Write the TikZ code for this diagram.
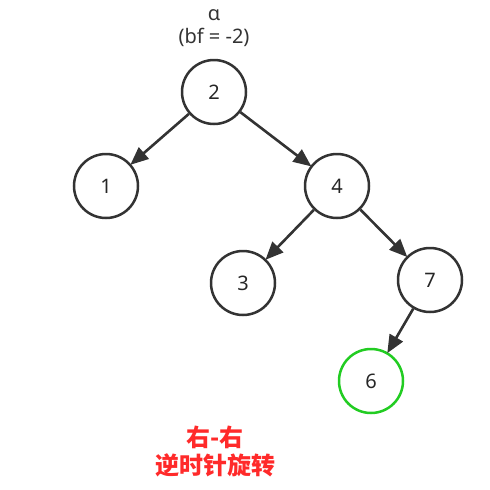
\documentclass[tikz,border=0pt]{standalone}
\usepackage{fontspec}
\setmainfont{Noto Sans}
\newfontfamily\cjk{Noto Sans CJK SC}
\usetikzlibrary{arrows.meta}

\definecolor{edgegray}{HTML}{333333}
\definecolor{newgreen}{HTML}{22CC22}
\definecolor{rotred}{HTML}{FF2A2A}

\begin{document}
\begin{tikzpicture}[x=1pt, y=-1pt,
    treenode/.style={circle, draw=edgegray, line width=2.5pt, minimum size=64pt, inner sep=0pt, font=\fontsize{20}{24}\selectfont, text=black!85},
    treeedge/.style={-{Triangle[length=18pt, width=15pt]}, draw=edgegray, fill=edgegray, line width=2.6pt, shorten >=-1pt}]
    \useasboundingbox (0,0) rectangle (490,490);

    % Balance factor label
    \node[font=\fontsize{20}{24}\selectfont, text=black!80] (alpha) at (214,15) {α};
    \node[font=\fontsize{20}{24}\selectfont, text=black!80] (bf) at (214,37) {(bf = -2)};

    % Tree nodes
    \node[treenode] (n2) at (214,92) {2};
    \node[treenode] (n1) at (106,186) {1};
    \node[treenode] (n4) at (337,186) {4};
    \node[treenode] (n3) at (243,283) {3};
    \node[treenode] (n7) at (430,280) {7};
    \node[treenode, draw=newgreen] (n6) at (371,381) {6};

    % Edges
    \draw[treeedge] (n2) -- (n1);
    \draw[treeedge] (n2) -- (n4);
    \draw[treeedge] (n4) -- (n3);
    \draw[treeedge] (n4) -- (n7);
    \draw[treeedge] (n7) -- (n6);

    % Rotation caption
    \node[font=\cjk\bfseries\fontsize{24}{28}\selectfont, text=rotred] (case) at (215,437) {右-右};
    \node[font=\cjk\bfseries\fontsize{24}{28}\selectfont, text=rotred] (rot) at (215,465) {逆时针旋转};
\end{tikzpicture}
\end{document}
